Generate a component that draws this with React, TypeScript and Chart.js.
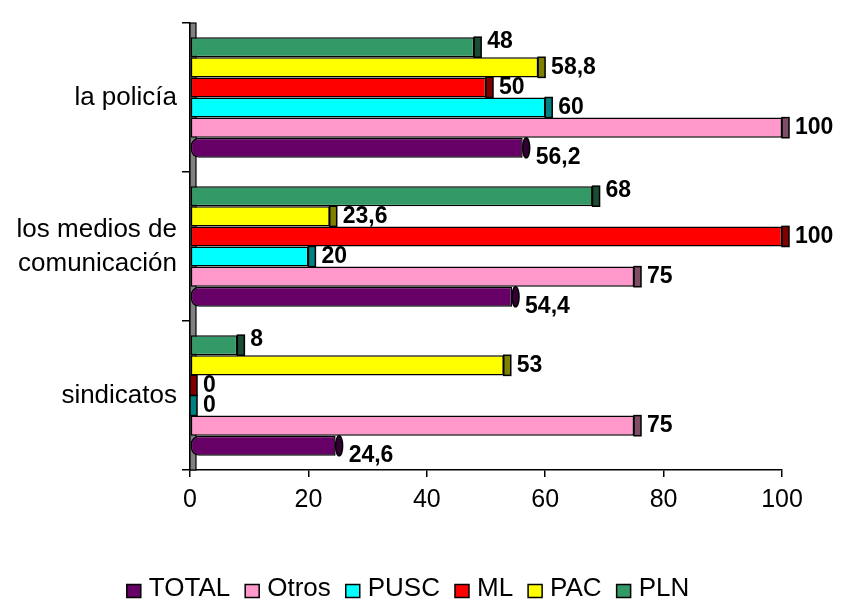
import React, { useEffect, useRef } from "react";
import { Chart, registerables } from "chart.js";

Chart.register(...registerables);

// ---- data ----
const categories: (string | string[])[] = ["la policía", ["los medios de", "comunicación"], "sindicatos"];
const plnValues = [48, 68, 8];
const pacValues = [58.8, 23.6, 53];
const mlValues = [50, 100, 0];
const puscValues = [60, 20, 0];
const otrosValues = [100, 75, 75];
const totalValues = [56.2, 54.4, 24.6];
const xMin = 0;
const xMax = 100;
const xStep = 20;

const FONT = "'Liberation Sans', Arial, sans-serif";
const DEPTH = 7;

const wallPlugin = {
  id: "wall3d",
  beforeDatasetsDraw(chart: any) {
    const { ctx, chartArea } = chart;
    const { left, top, bottom } = chartArea;
    ctx.save();
    ctx.fillStyle = "#808080";
    ctx.fillRect(left, top, 6, bottom - top);
    ctx.strokeStyle = "#000";
    ctx.lineWidth = 1.2;
    ctx.strokeRect(left, top, 6, bottom - top);
    ctx.restore();
  },
};

const capsAndLabelsPlugin = {
  id: "capsLabels",
  afterDatasetsDraw(chart: any) {
    const { ctx } = chart;
    ctx.save();
    chart.data.datasets.forEach((ds: any, i: number) => {
      const meta = chart.getDatasetMeta(i);
      meta.data.forEach((bar: any) => {
        const { x, y, height } = bar.getProps(["x", "y", "height"], true);
        const top = y - height / 2;
        ctx.fillStyle = ds.capColor;
        ctx.strokeStyle = "#000";
        ctx.lineWidth = 1.5;
        if (ds.cylinder) {
          ctx.beginPath();
          ctx.ellipse(x + DEPTH / 2, y, DEPTH / 2, height / 2, 0, 0, Math.PI * 2);
          ctx.fill();
          ctx.stroke();
        } else {
          ctx.fillRect(x, top, DEPTH, height);
          ctx.strokeRect(x, top, DEPTH, height);
        }
      });
    });
    ctx.fillStyle = "#000";
    ctx.font = `bold 23px ${FONT}`;
    ctx.textAlign = "left";
    ctx.textBaseline = "middle";
    chart.data.datasets.forEach((ds: any, i: number) => {
      const meta = chart.getDatasetMeta(i);
      meta.data.forEach((bar: any, j: number) => {
        const { x, y } = bar.getProps(["x", "y"], true);
        const txt = String(ds.data[j]).replace(".", ",");
        ctx.fillText(txt, x + DEPTH + 6, y + (ds.labelDy || 0));
      });
    });
    ctx.restore();
  },
};

// legend drawn from the chart's own legend items (reversed order: TOTAL first)
const legendPlugin = {
  id: "bottomLegend",
  afterDraw(chart: any) {
    const { ctx } = chart;
    const items = chart.options.plugins.legend.labels.generateLabels(chart).slice().reverse();
    const box = 14;
    const boxH = 13;
    const gapText = 8;
    const gapItem = 15;
    ctx.save();
    ctx.font = `26px ${FONT}`;
    const widths = items.map((it: any) => box + gapText + ctx.measureText(it.text).width);
    const total = widths.reduce((a: number, b: number) => a + b, 0) + gapItem * (items.length - 1);
    let x = 408 - total / 2;
    const cy = 589;
    items.forEach((it: any, k: number) => {
      ctx.fillStyle = it.fillStyle;
      ctx.fillRect(x, cy + 2 - boxH / 2, box, boxH);
      ctx.strokeStyle = "#000";
      ctx.lineWidth = 1.5;
      ctx.strokeRect(x, cy + 2 - boxH / 2, box, boxH);
      ctx.fillStyle = "#000";
      ctx.textAlign = "left";
      ctx.textBaseline = "middle";
      ctx.fillText(it.text, x + box + gapText, cy);
      x += widths[k] + gapItem;
    });
    ctx.restore();
  },
};

export default function App() {
  const ref = useRef<HTMLCanvasElement>(null);

  useEffect(() => {
    document.body.style.margin = "0";
    document.body.style.overflow = "hidden";
    Chart.defaults.font.family = FONT;
    Chart.defaults.color = "#000";

    const mk = (label: string, data: number[], color: string, cap: string, extra: any = {}) => ({
      label,
      data,
      backgroundColor: color,
      borderColor: "#000",
      borderWidth: 1.5,
      borderSkipped: false,
      capColor: cap,
      ...extra,
    });

    const chart = new Chart(ref.current as HTMLCanvasElement, {
      type: "bar",
      data: {
        labels: categories as any,
        datasets: [
          mk("PLN", plnValues, "#339966", "#1A4D33", { labelDy: -6 }),
          mk("PAC", pacValues, "#FFFF00", "#808000"),
          mk("ML", mlValues, "#FF0000", "#800000"),
          mk("PUSC", puscValues, "#00FFFF", "#008080"),
          mk("Otros", otrosValues, "#FF99CC", "#804D66"),
          mk("TOTAL", totalValues, "#660066", "#330033", {
            cylinder: true,
            labelDy: 10,
            borderRadius: { topLeft: 8, bottomLeft: 8, topRight: 0, bottomRight: 0 },
          }),
        ] as any,
      },
      options: {
        indexAxis: "y",
        responsive: false,
        animation: false,
        devicePixelRatio: 1,
        layout: { padding: { top: 23, right: 65, left: 0, bottom: 44 } },
        datasets: {
          bar: { categoryPercentage: 0.81, barPercentage: 1.0 },
        },
        scales: {
          y: {
            type: "category",
            position: "left",
            offset: true,
            grid: {
              offset: true,
              drawOnChartArea: false,
              drawTicks: true,
              tickLength: 8,
              color: "#000",
              lineWidth: 1.5,
            },
            border: { display: true, color: "#000", width: 1.5 },
            ticks: { font: { size: 26, lineHeight: 1.3 }, color: "#000", padding: 5 },
            afterFit(scale: any) {
              scale.width = 190;
            },
          },
          x: {
            type: "linear",
            min: xMin,
            max: xMax,
            ticks: { stepSize: xStep, font: { size: 25 }, color: "#000", padding: 8 },
            grid: {
              drawOnChartArea: false,
              drawTicks: true,
              tickLength: 7,
              color: "#000",
              lineWidth: 1.5,
            },
            border: { display: true, color: "#000", width: 1.5 },
            afterFit(scale: any) {
              scale.height = 91;
            },
          },
        },
        plugins: {
          legend: {
            display: false,
            labels: { boxWidth: 14, boxHeight: 13 },
          },
          tooltip: { enabled: false },
          title: { display: false },
        },
      } as any,
      plugins: [wallPlugin, capsAndLabelsPlugin, legendPlugin],
    });
    return () => chart.destroy();
  }, []);

  return (
    <div style={{ width: 847, height: 605 }}>
      <canvas ref={ref} width={847} height={605} style={{ display: "block" }} />
    </div>
  );
}
